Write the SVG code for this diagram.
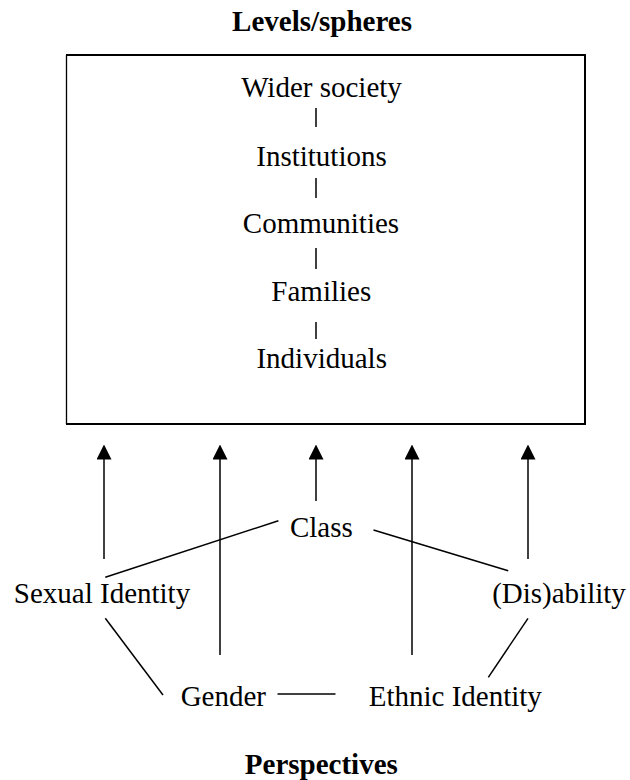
<svg xmlns="http://www.w3.org/2000/svg" width="630" height="780" viewBox="0 0 630 780">
<style>
text{font-family:"Liberation Serif","Times New Roman",serif;font-size:29px;fill:#000;text-anchor:middle}
.b{font-weight:bold}
.ln{stroke:#000;stroke-width:1.5;fill:none}
.box{stroke:#000;stroke-width:2;fill:none}
</style>
<defs>
<marker id="ah" viewBox="0 0 15 15" refX="0.5" refY="7.5" markerWidth="15" markerHeight="15" markerUnits="userSpaceOnUse" orient="auto">
<path d="M0,0 L15,7.5 L0,15 z" fill="#000"/>
</marker>
</defs>
<rect width="630" height="780" fill="#fff"/>
<text id="title-levels" class="b" x="322" y="31">Levels/spheres</text>
<g id="levels-box">
<path class="box" d="M66,55 H585 V424 H66"/>
<path d="M66.5,55 V424" stroke="#000" stroke-width="1.3"/>
</g>
<g id="wider-society"><text x="321.5" y="97">Wider society</text></g>
<g id="institutions"><text x="321.5" y="166">Institutions</text></g>
<g id="communities"><text x="321" y="233">Communities</text></g>
<g id="families"><text x="321.3" y="301">Families</text></g>
<g id="individuals"><text x="321.7" y="368">Individuals</text></g>
<g id="class"><text x="321.4" y="537">Class</text></g>
<g id="sexual-identity"><text x="102" y="603">Sexual Identity</text></g>
<g id="disability"><text x="559" y="603">(Dis)ability</text></g>
<g id="gender"><text x="223.3" y="706">Gender</text></g>
<g id="ethnic-identity"><text x="455.3" y="706">Ethnic Identity</text></g>
<text id="title-perspectives" class="b" x="321.3" y="774">Perspectives</text>
<g id="connectors">
<line class="ln" x1="316" y1="108" x2="316" y2="127"/>
<line class="ln" x1="316" y1="178" x2="316" y2="198"/>
<line class="ln" x1="316" y1="248" x2="316" y2="269"/>
<line class="ln" x1="316" y1="322" x2="316" y2="339"/>
<line class="ln" x1="104" y1="559" x2="104" y2="459" marker-end="url(#ah)"/>
<line class="ln" x1="220" y1="655" x2="220" y2="459" marker-end="url(#ah)"/>
<line class="ln" x1="316" y1="501" x2="316" y2="459" marker-end="url(#ah)"/>
<line class="ln" x1="412" y1="655" x2="412" y2="459" marker-end="url(#ah)"/>
<line class="ln" x1="528" y1="559" x2="528" y2="459" marker-end="url(#ah)"/>
<line class="ln" x1="278.4" y1="520.7" x2="105.3" y2="577.3"/>
<line class="ln" x1="373.5" y1="530" x2="508.2" y2="570.7"/>
<line class="ln" x1="105.3" y1="618.3" x2="163" y2="695"/>
<line class="ln" x1="277.5" y1="694" x2="335.5" y2="694"/>
<line class="ln" x1="528" y1="618.3" x2="488.3" y2="677.3"/>
</g>
</svg>
